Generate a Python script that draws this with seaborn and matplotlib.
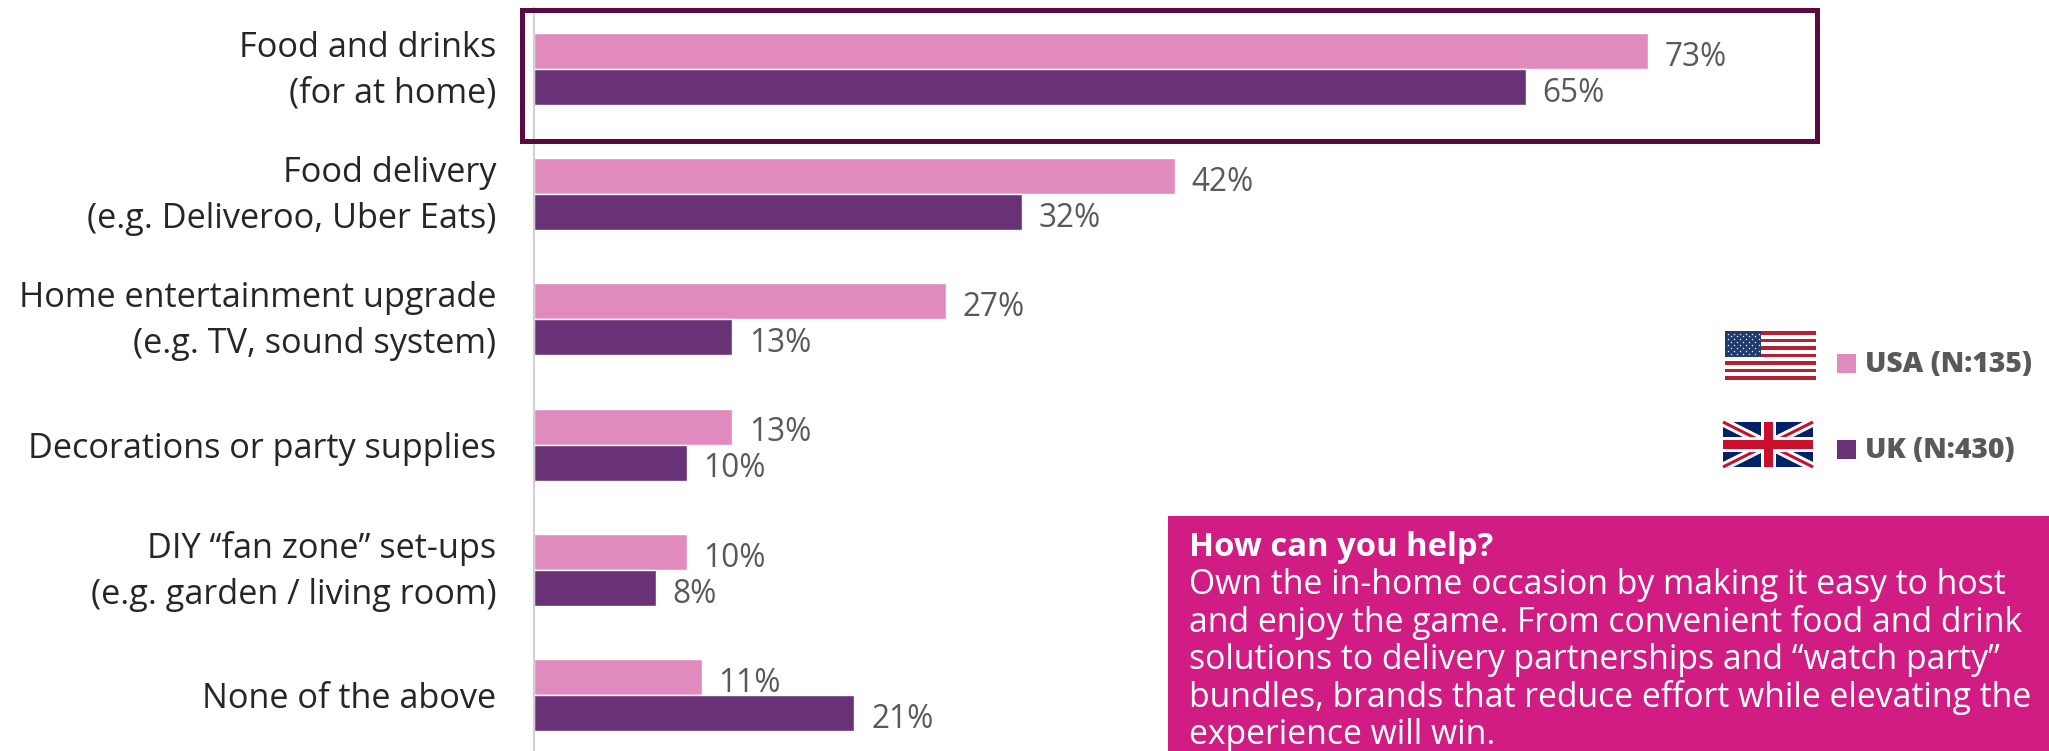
import matplotlib
matplotlib.use("Agg")
import matplotlib.pyplot as plt
from matplotlib.patches import Rectangle
from matplotlib.transforms import ScaledTranslation
import pandas as pd
import seaborn as sns

categories = [
    "Food and drinks\n(for at home)",
    "Food delivery\n(e.g. Deliveroo, Uber Eats)",
    "Home entertainment upgrade\n(e.g. TV, sound system)",
    "Decorations or party supplies",
    "DIY “fan zone” set-ups\n(e.g. garden / living room)",
    "None of the above",
]
usa_values = [73, 42, 27, 13, 10, 11]
uk_values = [65, 32, 13, 10, 8, 21]
usa_label = "USA (N:135)"
uk_label = "UK (N:430)"
callout_title = "How can you help?"
callout_lines = [
    "Own the in-home occasion by making it easy to host",
    "and enjoy the game. From convenient food and drink",
    "solutions to delivery partnerships and “watch party”",
    "bundles, brands that reduce effort while elevating the",
    "experience will win.",
]

PINK = "#E08ABD"
PURPLE = "#693176"
MAGENTA = "#D11C84"
FRAME = "#5A0A3E"
GREY = "#595959"
FONT = "Open Sans"

W, H = 2049, 751
sns.set_theme(style="white")
plt.rcParams["font.family"] = [FONT, "DejaVu Sans"]

df = pd.DataFrame({
    "category": categories * 2,
    "value": usa_values + uk_values,
    "country": ["USA"] * 6 + ["UK"] * 6,
})

fig = plt.figure(figsize=(W / 100, H / 100), dpi=100, facecolor="white")
ax = fig.add_axes([534 / W, 0, 1 - 534 / W, (H - 8) / H])
sns.barplot(data=df, y="category", x="value", hue="country", order=categories,
            hue_order=["USA", "UK"], palette={"USA": PINK, "UK": PURPLE},
            width=0.574, gap=0, saturation=1, legend=False, ax=ax)
ax.set_xlim(0, 99.28)
ax.set_ylim(5.447, -0.487)
ax.set_xlabel("")
ax.set_ylabel("")
ax.set_xticks([])
for side in ("top", "right", "bottom"):
    ax.spines[side].set_visible(False)
ax.spines["left"].set_color("#D0D0D0")
ax.spines["left"].set_linewidth(1.5)
ax.tick_params(axis="y", length=0, pad=27)
for label in ax.get_yticklabels():
    label.set_fontsize(24.7)
    label.set_color("#262626")
    label.set_linespacing(1.46)
    label.set_ha("right")
    # Two-line labels sit slightly above their bar pair
    if "\n" in label.get_text():
        label.set_transform(label.get_transform()
                            + ScaledTranslation(0, 6 / 72, fig.dpi_scale_trans))
for container in ax.containers:
    for text in ax.bar_label(container, fmt="%g%%", padding=12, fontsize=22.8, color=GREY):
        text.xyann = (12, -4.5)

# Overlay in pixel units for the frame, legend, flags and callout
ov = fig.add_axes([0, 0, 1, 1], facecolor="none")
ov.set_xlim(0, W)
ov.set_ylim(H, 0)
ov.axis("off")

ov.add_patch(Rectangle((521.5, 9.5), 1295, 131, fill=False, ec=FRAME, lw=3.6))

# Legend swatches and labels
ov.add_patch(Rectangle((1837, 354), 19, 19, fc=PINK, ec="none"))
ov.add_patch(Rectangle((1837, 440), 19, 19, fc=PURPLE, ec="none"))
ov.text(1865, 364, usa_label, fontsize=20.3, fontweight=800, color=GREY, va="center")
ov.text(1865, 450, uk_label, fontsize=20.3, fontweight=800, color=GREY, va="center")

# United States flag
fx, fy, fw, fh = 1725, 331, 91, 49
stripe = fh / 13
for i in range(13):
    ov.add_patch(Rectangle((fx, fy + i * stripe), fw, stripe + 0.2, ec="none",
                           fc="#B22234" if i % 2 == 0 else "white"))
ov.add_patch(Rectangle((fx, fy), fw * 0.4, stripe * 7, fc="#1F3A6E", ec="none"))
star_x, star_y = [], []
for r in range(9):
    n = 6 if r % 2 == 0 else 5
    for c in range(n):
        star_x.append(fx + (3.0 if r % 2 == 0 else 6.0) + c * 6.1)
        star_y.append(fy + 2.5 + r * 2.9)
ov.scatter(star_x, star_y, s=3, c="white", marker="*", linewidths=0)

# Union flag
ux, uy, uw, uh = 1723, 422, 90, 45
x0, x1, y0, y1 = ux, ux + uw, uy, uy + uh
ov.add_patch(Rectangle((ux, uy), uw, uh, fc="#012169", ec="none"))
for a, b in (((x0, y0), (x1, y1)), ((x0, y1), (x1, y0))):
    ov.plot([a[0], b[0]], [a[1], b[1]], color="white", lw=6.5, solid_capstyle="butt")
    ov.plot([a[0], b[0]], [a[1], b[1]], color="#C8102E", lw=2.2, solid_capstyle="butt")
ov.add_patch(Rectangle((x0, uy + uh / 2 - 7.5), uw, 15, fc="white", ec="none", zorder=3))
ov.add_patch(Rectangle((ux + uw / 2 - 7.5, y0), 15, uh, fc="white", ec="none", zorder=3))
ov.add_patch(Rectangle((x0, uy + uh / 2 - 4.5), uw, 9, fc="#C8102E", ec="none", zorder=3))
ov.add_patch(Rectangle((ux + uw / 2 - 4.5, y0), 9, uh, fc="#C8102E", ec="none", zorder=3))

# Callout panel
ov.add_patch(Rectangle((1168, 516), W - 1168, H - 516, fc=MAGENTA, ec="none"))
ov.text(1189, 548, callout_title, fontsize=23.6, fontweight="bold", color="white", va="center")
for i, line in enumerate(callout_lines):
    ov.text(1189, 585 + i * 37.5, line, fontsize=24.3, color="white", va="center", clip_on=True)

fig.savefig("out.png", dpi=100)
